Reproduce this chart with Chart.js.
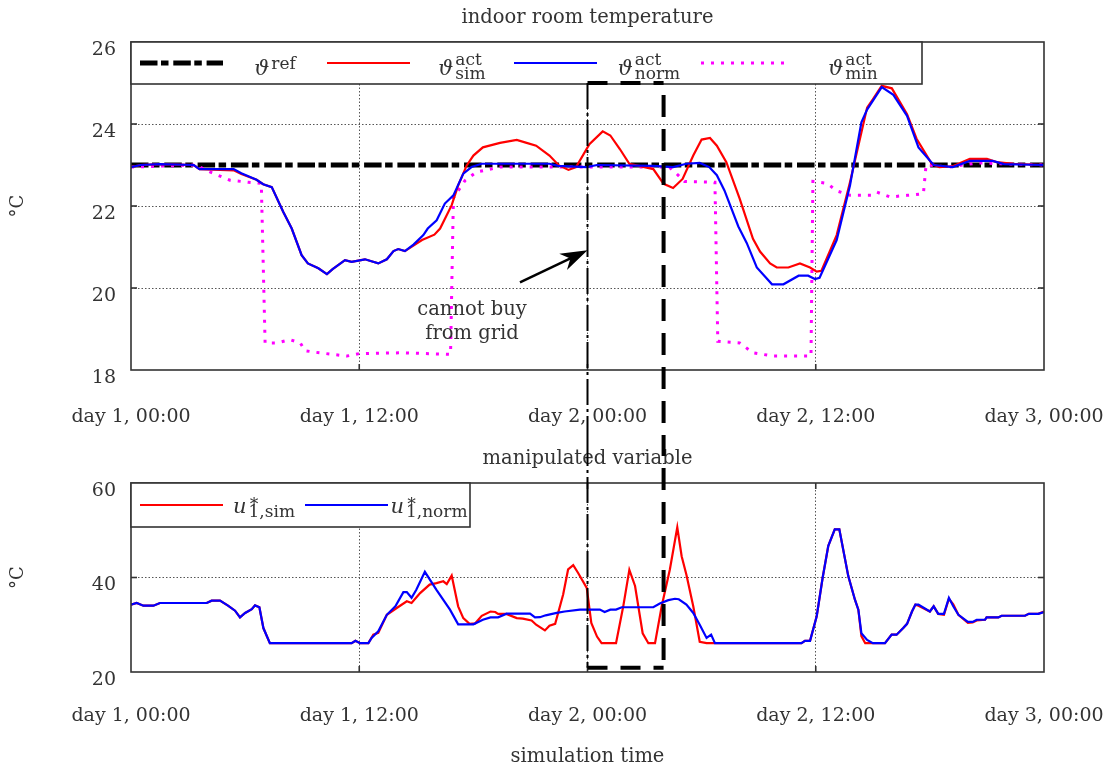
<!DOCTYPE html>
<html>
<head>
<meta charset="utf-8">
<title>indoor room temperature</title>
<script src="https://cdn.jsdelivr.net/npm/chart.js@4.4.1/dist/chart.umd.min.js"></script>
<style>
  html, body { margin: 0; padding: 0; background: #fff; }
  #wrap { position: relative; width: 1108px; height: 772px; }
  .panel { position: absolute; left: 0; width: 1108px; }
  #top { top: 0; height: 440px; }
  #bottom { top: 440px; height: 332px; }
</style>
</head>
<body>
<div id="wrap">
  <div class="panel" id="top"><canvas id="tempChart"></canvas></div>
  <div class="panel" id="bottom"><canvas id="uChart"></canvas></div>
</div>
<script>
// ── Time axis (simulation hours) ─────────────────────────
const hourTicks = [0, 12, 24, 36, 48];
const tickLabels = ['day 1, 00:00', 'day 1, 12:00', 'day 2, 00:00', 'day 2, 12:00', 'day 3, 00:00'];

// ── Indoor room temperature, °C ──────────────────────────
const refHours = [0, 48];
const refTemp = [23, 23];

const simHours = [0, 0.5, 1.5, 3.3, 3.6, 5.4, 5.8, 6.6, 6.95, 7.4, 8.0, 8.45, 8.97, 9.3, 9.85, 10.3, 10.6, 11.25, 11.6, 12.3,
  13.0, 13.45, 13.8, 14.05, 14.4, 15.3, 15.95, 16.25, 16.86, 17.2, 17.65, 18.0, 18.5, 19.4, 20.28, 20.8, 21.3, 22.0, 22.5, 23.0,
  23.4, 24.1, 24.8, 25.2, 25.7, 26.2, 27.46, 28.0, 28.5, 29.0, 29.56, 30.0, 30.44, 30.8, 31.3, 32.0, 32.7, 33.07, 33.6, 33.95,
  34.56, 35.17, 35.7, 36.05, 36.3, 37.1, 37.8, 38.7, 39.0, 39.47, 40.0, 40.8, 41.3, 42.1, 42.5, 43.2, 44.1, 45.0, 45.5, 46.4, 48];
const simTemp = [22.95, 23.0, 23.02, 23.0, 22.9, 22.87, 22.78, 22.64, 22.53, 22.46, 21.86, 21.45, 20.8, 20.6, 20.48, 20.34, 20.46, 20.68, 20.64, 20.7,
  20.6, 20.7, 20.9, 20.95, 20.9, 21.17, 21.3, 21.45, 22.02, 22.5, 22.99, 23.23, 23.43, 23.54, 23.61, 23.54, 23.47, 23.23, 22.99, 22.88,
  22.95, 23.51, 23.82, 23.72, 23.39, 23.03, 22.9, 22.54, 22.44, 22.66, 23.23, 23.62, 23.66, 23.47, 23.07, 22.18, 21.2, 20.89, 20.6, 20.5,
  20.5, 20.6, 20.5, 20.4, 20.42, 21.29, 22.58, 24.4, 24.6, 24.93, 24.87, 24.24, 23.64, 23.03, 22.95, 22.97, 23.15, 23.15, 23.07, 23.03, 23.0];

const normHours = [0, 0.5, 1.5, 3.3, 3.6, 5.4, 5.8, 6.6, 6.95, 7.4, 8.0, 8.45, 8.97, 9.3, 9.85, 10.3, 10.6, 11.25, 11.6, 12.3,
  13.0, 13.45, 13.8, 14.05, 14.4, 14.85, 15.37, 15.6, 16.07, 16.5, 16.95, 17.47, 17.9, 18.44, 22.0, 22.45, 23.96, 24.5, 27.45, 28.5,
  29.2, 29.9, 30.4, 30.8, 31.2, 31.93, 32.37, 32.9, 33.7, 34.3, 35.1, 35.6, 35.96, 36.2, 37.1, 37.8, 38.4, 38.7, 39.47, 40.08,
  40.8, 41.4, 42.2, 43.2, 44.1, 45.3, 45.9, 48];
const normTemp = [22.95, 23.0, 23.02, 23.0, 22.9, 22.9, 22.8, 22.64, 22.53, 22.46, 21.86, 21.45, 20.8, 20.6, 20.48, 20.34, 20.46, 20.68, 20.64, 20.7,
  20.6, 20.7, 20.9, 20.95, 20.9, 21.06, 21.29, 21.45, 21.65, 22.06, 22.26, 22.79, 22.95, 23.03, 23.03, 22.98, 22.95, 23.0, 22.98, 22.95,
  23.03, 23.05, 22.95, 22.75, 22.38, 21.5, 21.1, 20.5, 20.09, 20.09, 20.3, 20.3, 20.22, 20.25, 21.17, 22.5, 24.04, 24.35, 24.9, 24.71,
  24.2, 23.43, 23.0, 22.95, 23.1, 23.1, 23.02, 23.0];

const minHours = [0, 3.4, 4.15, 5.2, 6.17, 6.85, 7.05, 7.65, 8.36, 8.9, 9.15, 9.9, 11.35, 12.0, 14.3, 16.8, 16.95, 17.56, 18.17, 18.7,
  19.4, 28.3, 28.7, 29.1, 30.7, 30.85, 32.0, 32.7, 33.1, 33.75, 35.3, 35.75, 35.85, 36.6, 37.1, 37.8, 38.9, 39.2, 39.9, 40.8,
  41.66, 41.8, 43.0, 44.5, 48];
const minTemp = [22.95, 23.0, 22.83, 22.63, 22.58, 22.55, 18.66, 18.66, 18.74, 18.66, 18.47, 18.42, 18.34, 18.4, 18.42, 18.38, 22.2, 22.62, 22.83, 22.88,
  22.95, 22.95, 22.78, 22.6, 22.58, 18.7, 18.66, 18.42, 18.39, 18.34, 18.34, 18.34, 22.6, 22.55, 22.37, 22.26, 22.26, 22.34, 22.22, 22.26,
  22.3, 23.0, 22.95, 23.05, 23.0];

// ── Manipulated variable u1*, °C ─────────────────────────
const uSimHours = [0, 0.3, 0.65, 1.18, 1.52, 3.98, 4.24, 4.68, 5.1, 5.47, 5.73, 6.0, 6.35, 6.52, 6.75, 6.96, 7.3, 11.6, 11.8, 12.04,
  12.48, 12.74, 13.0, 13.45, 13.97, 14.5, 14.75, 15.2, 15.7, 16.06, 16.42, 16.6, 16.86, 17.2, 17.47, 17.8, 18.1, 18.44, 18.9, 19.15,
  19.3, 19.73, 20.28, 20.6, 21.06, 21.3, 21.76, 22.0, 22.3, 22.72, 22.98, 23.25, 23.5, 23.96, 24.2, 24.5, 24.74, 25.5, 25.88, 26.2,
  26.5, 26.9, 27.2, 27.55, 27.9, 28.33, 28.72, 28.95, 29.2, 29.56, 29.9, 30.26, 35.25, 35.43, 35.7, 36.05, 36.36, 36.66, 37.0, 37.24,
  37.71, 38.06, 38.24, 38.4, 38.6, 39.64, 39.99, 40.25, 40.6, 40.8, 41.06, 41.24, 41.4, 42.0, 42.2, 42.44, 42.74, 43.0, 43.23, 43.5,
  44.0, 44.25, 44.46, 44.9, 44.98, 45.6, 45.77, 47.0, 47.2, 47.7, 48];
const uSim = [34.26, 34.6, 34.04, 34.04, 34.6, 34.6, 35.1, 35.1, 34.04, 32.98, 31.56, 32.5, 33.3, 34.1, 33.7, 29.3, 26.1, 26.1, 26.6, 26.1,
  26.1, 27.9, 28.3, 32.1, 33.55, 34.96, 34.6, 36.7, 38.5, 38.8, 39.2, 38.6, 40.4, 33.9, 31.4, 30.2, 30.3, 31.9, 32.8, 32.7,
  32.3, 32.3, 31.4, 31.3, 30.9, 30.0, 28.8, 29.8, 30.2, 36.4, 41.7, 42.6, 41.0, 37.8, 30.4, 27.5, 26.1, 26.1, 33.9, 41.6,
  38.2, 28.2, 26.1, 26.1, 33.9, 41.7, 50.6, 44.5, 40.6, 33.9, 26.4, 26.1, 26.1, 26.6, 26.6, 31.8, 39.9, 46.7, 50.2, 50.2,
  40.3, 35.3, 33.2, 27.6, 26.1, 26.1, 27.9, 27.9, 29.3, 30.2, 32.8, 34.26, 34.0, 32.8, 33.9, 32.3, 32.1, 35.5, 34.3, 32.1,
  30.4, 30.5, 30.9, 31.06, 31.56, 31.56, 31.9, 31.9, 32.3, 32.3, 32.8];

const uNormHours = [0, 0.3, 0.65, 1.18, 1.52, 3.98, 4.24, 4.68, 5.1, 5.47, 5.73, 6.0, 6.35, 6.52, 6.75, 6.96, 7.3, 11.6, 11.8, 12.04,
  12.48, 12.65, 13.0, 13.45, 13.9, 14.32, 14.5, 14.75, 15.0, 15.45, 16.06, 16.77, 17.2, 18.0, 18.5, 18.9, 19.3, 19.75, 20.98, 21.24,
  21.5, 21.8, 22.38, 22.8, 23.6, 24.65, 24.9, 25.2, 25.5, 25.8, 27.46, 27.8, 28.25, 28.6, 28.8, 29.2, 29.56, 29.9, 30.26, 30.5,
  30.7, 35.25, 35.43, 35.7, 36.05, 36.36, 36.66, 37.0, 37.24, 37.71, 38.06, 38.24, 38.4, 38.7, 39.0, 39.64, 39.99, 40.25, 40.6, 40.8,
  41.06, 41.24, 41.4, 42.0, 42.2, 42.44, 42.74, 43.0, 43.23, 43.5, 44.0, 44.25, 44.46, 44.9, 44.98, 45.6, 45.77, 47.0, 47.2, 47.7, 48];
const uNorm = [34.26, 34.6, 34.04, 34.04, 34.6, 34.6, 35.1, 35.1, 34.04, 32.98, 31.56, 32.5, 33.3, 34.1, 33.7, 29.3, 26.1, 26.1, 26.6, 26.1,
  26.1, 27.2, 28.6, 32.1, 33.9, 36.9, 36.9, 35.7, 37.4, 41.2, 37.4, 33.2, 30.1, 30.1, 31.06, 31.56, 31.56, 32.34, 32.34, 31.56,
  31.6, 32.0, 32.5, 32.8, 33.2, 33.2, 32.7, 33.2, 33.2, 33.7, 33.7, 34.5, 35.2, 35.5, 35.4, 34.26, 32.5, 30.0, 27.2, 27.9,
  26.1, 26.1, 26.6, 26.6, 31.8, 39.9, 46.7, 50.2, 50.2, 40.3, 35.3, 33.2, 28.2, 26.8, 26.1, 26.1, 27.9, 27.9, 29.3, 30.2,
  32.8, 34.26, 34.26, 32.8, 33.9, 32.3, 32.3, 35.7, 33.9, 32.1, 30.6, 30.6, 31.06, 31.06, 31.56, 31.56, 31.9, 31.9, 32.3, 32.3, 32.7];

// ── "cannot buy from grid" window and its note ───────────
const blockHours = [24, 28];
const blockTopTemp = 25;
const blockBottomU = 20.9;
const arrowFrom = [20.45, 20.14];
const arrowTo = [24.0, 20.92];
const noteAt = [17.93, 19.17];
const noteLines = ['cannot buy', 'from grid'];

// ── Style ────────────────────────────────────────────────
const FONT = 'DejaVu Serif';
const INK = '#333';

Chart.defaults.font.family = FONT;
Chart.defaults.font.size = 19;
Chart.defaults.color = INK;
Chart.defaults.animation = false;

const pts = (xs, ys) => xs.map((x, i) => ({ x, y: ys[i] }));

function strokeLine(ctx, x0, y0, x1, y1) {
  ctx.beginPath();
  ctx.moveTo(x0, y0);
  ctx.lineTo(x1, y1);
  ctx.stroke();
}

// base symbol with stacked super-/subscript, centred on cx
function drawMath(ctx, cx, baseY, m) {
  ctx.font = `italic 21px ${FONT}`;
  const bw = ctx.measureText(m.base).width;
  ctx.font = `17px ${FONT}`;
  const supW = m.sup ? ctx.measureText(m.sup).width : 0;
  const subW = m.sub ? ctx.measureText(m.sub).width : 0;
  const total = bw + 2 + Math.max(supW, subW);
  let x = cx - total / 2;
  ctx.fillStyle = INK;
  ctx.textAlign = 'left';
  ctx.textBaseline = 'alphabetic';
  ctx.font = `italic 21px ${FONT}`;
  ctx.fillText(m.base, x, baseY);
  x += bw + 2;
  ctx.font = `17px ${FONT}`;
  if (m.sup) ctx.fillText(m.sup, x, baseY - (m.raise ?? (m.sub ? 10 : 6)));
  if (m.sub) ctx.fillText(m.sub, x, baseY + 4);
}

// frame with inward ticks, then the legend box in the top-left corner
const framedLegend = {
  id: 'framedLegend',
  afterDatasetsDraw(chart, args, opts) {
    const { ctx, chartArea: a, scales } = chart;
    ctx.save();
    ctx.strokeStyle = INK;
    ctx.lineWidth = 1.6;
    ctx.setLineDash([]);
    ctx.strokeRect(a.left, a.top, a.right - a.left, a.bottom - a.top);
    scales.y.ticks.slice(1, -1).forEach(t => {
      const y = scales.y.getPixelForValue(t.value);
      strokeLine(ctx, a.left, y, a.left + 6, y);
      strokeLine(ctx, a.right - 6, y, a.right, y);
    });
    scales.x.ticks.slice(1, -1).forEach(t => {
      const x = scales.x.getPixelForValue(t.value);
      strokeLine(ctx, x, a.bottom, x, a.bottom - 6);
      strokeLine(ctx, x, a.top, x, a.top + 6);
    });

    const x0 = a.left, y0 = a.top, cy = y0 + opts.height / 2;
    ctx.fillStyle = '#fff';
    ctx.fillRect(x0, y0, opts.width, opts.height);
    ctx.strokeRect(x0, y0, opts.width, opts.height);
    const items = chart.data.datasets.filter(d => d.math).sort((p, q) => p.legendIndex - q.legendIndex);
    items.forEach((ds, i) => {
      const sx = x0 + 9 + i * opts.column;
      const ex = sx + 83;
      ctx.strokeStyle = ds.borderColor;
      ctx.lineWidth = ds.borderWidth;
      ctx.setLineDash(ds.borderDash || []);
      strokeLine(ctx, sx, cy, ex, cy);
      ctx.setLineDash([]);
      const next = i < items.length - 1 ? sx + opts.column : x0 + opts.width;
      drawMath(ctx, (ex + next) / 2, cy + opts.baseline, ds.math);
    });
    ctx.restore();
  }
};

// dashed window over both panels; each panel draws its own share
const gridBlock = {
  id: 'gridBlock',
  afterDraw(chart, args, opts) {
    const { ctx, scales: { x: xs, y: ys } } = chart;
    const xa = xs.getPixelForValue(blockHours[0]);
    const xb = xs.getPixelForValue(blockHours[1]);
    ctx.save();
    ctx.strokeStyle = '#000';
    ctx.lineCap = 'butt';
    if (opts.part === 'upper') {
      const yT = ys.getPixelForValue(blockTopTemp);
      ctx.lineWidth = 4;
      ctx.setLineDash([20, 13]);
      strokeLine(ctx, xa, yT, xb, yT);
      ctx.setLineDash([22, 12]);
      ctx.lineDashOffset = -12;
      strokeLine(ctx, xb, yT, xb, chart.height);
      ctx.lineWidth = 2;
      ctx.lineDashOffset = 0;
      ctx.setLineDash([26, 4, 3, 4]);
      strokeLine(ctx, xa, yT, xa, chart.height);

      // arrow towards the window
      const p0 = [xs.getPixelForValue(arrowFrom[0]), ys.getPixelForValue(arrowFrom[1])];
      const p1 = [xs.getPixelForValue(arrowTo[0]), ys.getPixelForValue(arrowTo[1])];
      const len = Math.hypot(p1[0] - p0[0], p1[1] - p0[1]);
      const ux = (p1[0] - p0[0]) / len, uy = (p1[1] - p0[1]) / len;
      const nx = -uy, ny = ux;
      ctx.setLineDash([]);
      ctx.lineWidth = 2.5;
      strokeLine(ctx, p0[0], p0[1], p1[0] - 16 * ux, p1[1] - 16 * uy);
      ctx.fillStyle = '#000';
      ctx.beginPath();
      ctx.moveTo(p1[0], p1[1]);
      ctx.lineTo(p1[0] - 27 * ux + 9 * nx, p1[1] - 27 * uy + 9 * ny);
      ctx.lineTo(p1[0] - 19 * ux, p1[1] - 19 * uy);
      ctx.lineTo(p1[0] - 27 * ux - 9 * nx, p1[1] - 27 * uy - 9 * ny);
      ctx.closePath();
      ctx.fill();

      ctx.fillStyle = INK;
      ctx.font = `19.5px ${FONT}`;
      ctx.textAlign = 'center';
      ctx.textBaseline = 'middle';
      const nx0 = xs.getPixelForValue(noteAt[0]);
      const ny0 = ys.getPixelForValue(noteAt[1]);
      noteLines.forEach((s, i) => ctx.fillText(s, nx0, ny0 + (i - (noteLines.length - 1) / 2) * 24));
    } else {
      const yB = ys.getPixelForValue(blockBottomU);
      ctx.lineWidth = 4;
      ctx.setLineDash([22, 12]);
      ctx.lineDashOffset = 6;
      strokeLine(ctx, xb, 0, xb, yB);
      ctx.lineDashOffset = 0;
      ctx.setLineDash([20, 13]);
      strokeLine(ctx, xa, yB, xb, yB);
      ctx.lineWidth = 2;
      ctx.setLineDash([26, 4, 3, 4]);
      strokeLine(ctx, xa, 0, xa, yB);
    }
    ctx.restore();
  }
};

function timeScale(height, pad, withTitle) {
  return {
    type: 'linear',
    min: hourTicks[0],
    max: hourTicks[hourTicks.length - 1],
    afterBuildTicks: s => { s.ticks = hourTicks.map(v => ({ value: v })); },
    // fixed band height; edge labels may overhang the plot, so no extra side padding
    afterFit: s => { s.height = height; s.paddingLeft = 0; s.paddingRight = 0; },
    ticks: {
      padding: pad,
      maxRotation: 0,
      autoSkip: false,
      callback: v => tickLabels[hourTicks.indexOf(v)]
    },
    grid: {
      drawTicks: false,
      lineWidth: 1,
      color: c => (c.index === 0 || c.index === hourTicks.length - 1) ? 'rgba(0,0,0,0)' : '#555'
    },
    border: { display: false, dash: [1.5, 2] },
    title: withTitle
      ? { display: true, text: 'simulation time', font: { size: 19.5 }, padding: { top: 0, bottom: 3.5 } }
      : { display: false }
  };
}

function valueScale(min, max, step) {
  return {
    min, max,
    afterFit: s => { s.width = 131; s.paddingTop = 0; s.paddingBottom = 0; },
    ticks: { stepSize: step, padding: 15, labelOffset: 8 },
    grid: {
      drawTicks: false,
      lineWidth: 1,
      color: c => (c.tick.value === min || c.tick.value === max) ? 'rgba(0,0,0,0)' : '#555'
    },
    border: { display: false, dash: [1.5, 2] },
    title: { display: true, text: '°C', font: { size: 18 }, padding: { top: 8, bottom: 0 } }
  };
}

const lineBase = { pointRadius: 0, pointHoverRadius: 0, tension: 0, fill: false, borderCapStyle: 'butt' };

new Chart(document.getElementById('tempChart'), {
  type: 'line',
  data: {
    datasets: [
      { ...lineBase, label: 'norm', data: pts(normHours, normTemp), borderColor: '#0000ff', borderWidth: 2.2, order: 0,
        legendIndex: 2, math: { base: 'ϑ', sup: 'act', sub: 'norm' } },
      { ...lineBase, label: 'sim', data: pts(simHours, simTemp), borderColor: '#ff0000', borderWidth: 2.2, order: 1,
        legendIndex: 1, math: { base: 'ϑ', sup: 'act', sub: 'sim' } },
      { ...lineBase, label: 'min', data: pts(minHours, minTemp), borderColor: '#ff00ff', borderWidth: 3, borderDash: [3, 7], order: 2,
        legendIndex: 3, math: { base: 'ϑ', sup: 'act', sub: 'min' } },
      { ...lineBase, label: 'ref', data: pts(refHours, refTemp), borderColor: '#000', borderWidth: 5, borderDash: [17.5, 3.5, 7.5, 4.8], order: 3,
        legendIndex: 0, math: { base: 'ϑ', sup: 'ref' } }
    ]
  },
  options: {
    responsive: true,
    maintainAspectRatio: false,
    layout: { padding: { left: 0, right: 64, top: 0, bottom: 0 } },
    scales: { x: timeScale(70, 35.6, false), y: valueScale(18, 26, 2) },
    plugins: {
      legend: { display: false },
      tooltip: { enabled: false },
      title: { display: true, fullSize: false, text: 'indoor room temperature', color: INK,
        font: { size: 19.5, weight: 'normal' }, padding: { top: 6.1, bottom: 12.5 } },
      framedLegend: { width: 791, height: 42, column: 187, baseline: 12 },
      gridBlock: { part: 'upper' }
    }
  },
  plugins: [framedLegend, gridBlock]
});

new Chart(document.getElementById('uChart'), {
  type: 'line',
  data: {
    datasets: [
      { ...lineBase, label: 'u norm', data: pts(uNormHours, uNorm), borderColor: '#0000ff', borderWidth: 2.2, order: 0,
        legendIndex: 1, math: { base: 'u', sup: '∗', sub: '1,norm', raise: 7 } },
      { ...lineBase, label: 'u sim', data: pts(uSimHours, uSim), borderColor: '#ff0000', borderWidth: 2.2, order: 1,
        legendIndex: 0, math: { base: 'u', sup: '∗', sub: '1,sim', raise: 7 } }
    ]
  },
  options: {
    responsive: true,
    maintainAspectRatio: false,
    layout: { padding: { left: 0, right: 64, top: 0, bottom: 0 } },
    scales: { x: timeScale(100, 32.6, true), y: valueScale(20, 60, 20) },
    plugins: {
      legend: { display: false },
      tooltip: { enabled: false },
      title: { display: true, fullSize: false, text: 'manipulated variable', color: INK,
        font: { size: 19.5, weight: 'normal' }, padding: { top: 7.3, bottom: 12.3 } },
      framedLegend: { width: 339, height: 44, column: 165, baseline: 8 },
      gridBlock: { part: 'lower' }
    }
  },
  plugins: [framedLegend, gridBlock]
});
</script>
</body>
</html>
